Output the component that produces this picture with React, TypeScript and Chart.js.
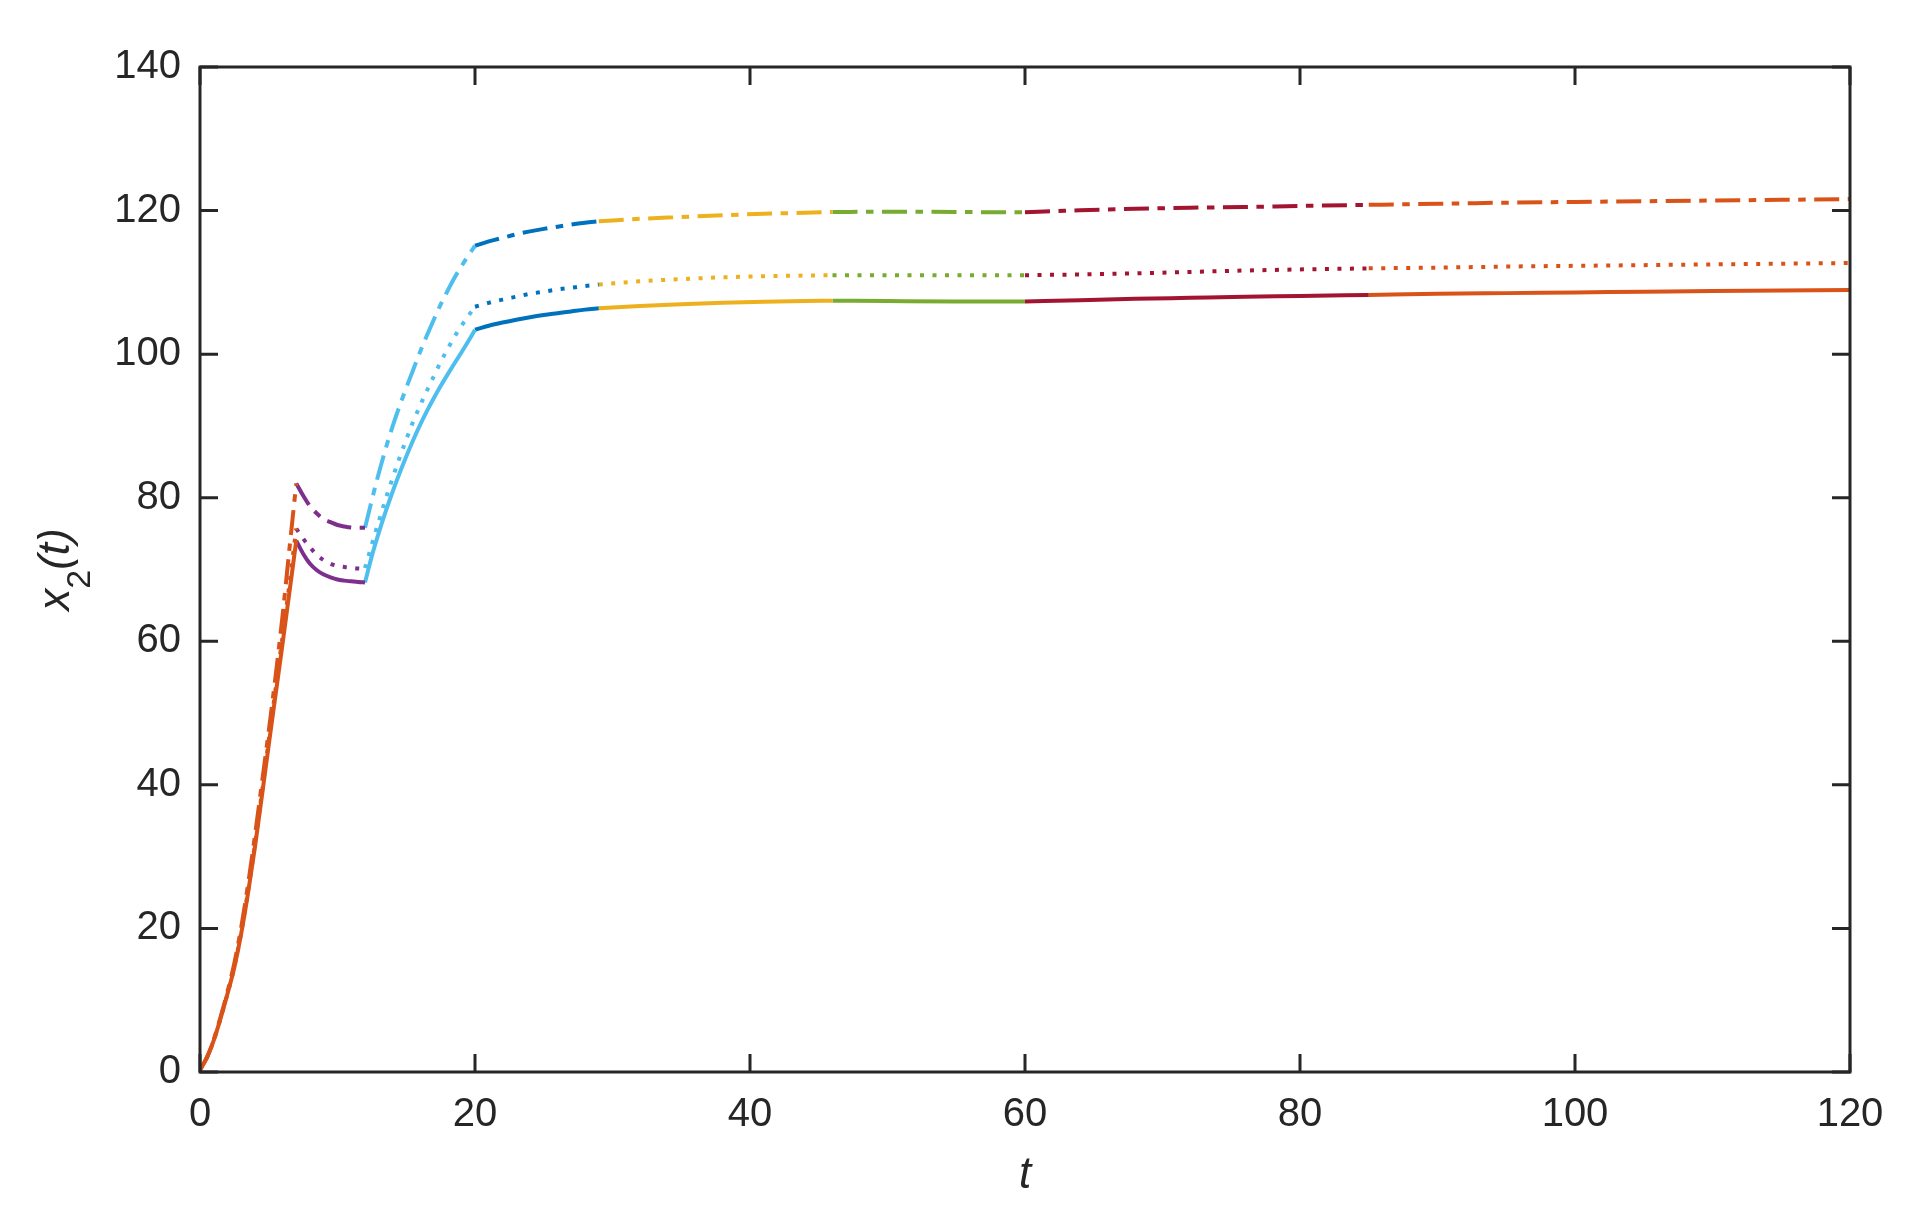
import React, { useEffect, useRef } from 'react';
import { Chart, registerables } from 'chart.js';

Chart.register(...registerables);

// ---- axis ticks ----
const xTickValues = [0, 20, 40, 60, 80, 100, 120];
const yTickValues = [0, 20, 40, 60, 80, 100, 120, 140];

// ---- segment A: t in [0,7] (orange) ----
const tA = [0, 0.5, 1, 1.5, 2, 2.5, 3, 3.5, 4, 4.5, 5, 5.5, 6, 6.5, 7];
const solidA = [0.3, 2.0, 4.4, 7.5, 10.9, 14.6, 19.3, 25.0, 31.4, 38.4, 45.6, 52.6, 59.6, 66.8, 74.0];
const dottedA = [0.3, 2.0, 4.4, 7.5, 10.9, 14.7, 19.5, 25.3, 31.8, 38.9, 46.2, 53.4, 60.6, 67.9, 75.7];
const dashdotA = [0.3, 2.0, 4.5, 7.7, 11.2, 15.2, 20.2, 26.2, 33.0, 40.2, 47.5, 55.2, 63.5, 72.8, 82.0];

// ---- segment B: t in [7,12] (purple) ----
const tB = [7, 7.5, 8, 8.5, 9, 9.5, 10, 10.5, 11, 11.5, 12];
const solidB = [74.0, 72.2, 70.8, 69.9, 69.3, 68.9, 68.6, 68.45, 68.35, 68.25, 68.2];
const dottedB = [75.7, 74.3, 73.1, 72.0, 71.3, 70.8, 70.5, 70.35, 70.25, 70.15, 70.1];
const dashdotB = [82.0, 80.3, 78.8, 77.8, 77.0, 76.6, 76.2, 76.0, 75.85, 75.8, 75.8];

// ---- segment C: t in [12,20] (light blue) ----
const tC = [12, 12.5, 13, 13.5, 14, 14.5, 15, 15.5, 16, 16.5, 17, 17.5, 18, 18.5, 19, 19.5, 20];
const solidC = [68.2, 71.9, 75.1, 78.05, 80.8, 83.35, 85.75, 88.0, 90.1, 92.05, 93.85, 95.55, 97.15, 98.7, 100.2, 101.75, 103.4];
const dottedC = [70.2, 73.5, 76.7, 79.8, 82.7, 85.5, 88.1, 90.6, 92.8, 94.9, 96.9, 98.9, 100.7, 102.4, 103.9, 105.3, 106.6];
const dashdotC = [75.8, 79.7, 83.4, 86.8, 89.9, 92.7, 95.3, 97.8, 100.3, 102.6, 104.8, 106.9, 108.8, 110.6, 112.2, 113.7, 115.1];

// ---- segment D: t in [20,29] (blue) ----
const tD = [20, 21, 22, 23, 24, 25, 26, 27, 28, 29];
const solidD = [103.4, 103.95, 104.4, 104.8, 105.15, 105.45, 105.7, 105.95, 106.2, 106.4];
const dottedD = [106.6, 107.15, 107.6, 108.0, 108.4, 108.7, 109.0, 109.25, 109.5, 109.7];
const dashdotD = [115.1, 115.7, 116.2, 116.7, 117.1, 117.45, 117.75, 118.05, 118.3, 118.5];

// ---- segment E: t in [29,46] (yellow) ----
const tE = [29, 32, 35, 38, 41, 44, 46];
const solidE = [106.4, 106.7, 106.95, 107.15, 107.3, 107.4, 107.45];
const dottedE = [109.7, 110.15, 110.45, 110.7, 110.85, 110.95, 111.0];
const dashdotE = [118.5, 118.85, 119.1, 119.35, 119.55, 119.7, 119.8];

// ---- segment F: t in [46,60] (green) ----
const tF = [46, 50, 55, 60];
const solidF = [107.45, 107.4, 107.35, 107.35];
const dottedF = [111.0, 111.0, 111.0, 111.0];
const dashdotF = [119.8, 119.85, 119.8, 119.75];

// ---- segment G: t in [60,85] (dark red) ----
const tG = [60, 64, 68, 72, 76, 80, 85];
const solidG = [107.35, 107.5, 107.7, 107.85, 108.0, 108.1, 108.25];
const dottedG = [111.0, 111.1, 111.25, 111.45, 111.65, 111.8, 111.95];
const dashdotG = [119.75, 120.05, 120.25, 120.4, 120.5, 120.65, 120.8];

// ---- segment H: t in [85,120] (orange) ----
const tH = [85, 90, 95, 100, 105, 110, 115, 120];
const solidH = [108.25, 108.4, 108.5, 108.6, 108.7, 108.8, 108.88, 108.95];
const dottedH = [111.95, 112.05, 112.2, 112.3, 112.4, 112.5, 112.6, 112.7];
const dashdotH = [120.8, 120.95, 121.1, 121.2, 121.3, 121.4, 121.5, 121.6];

const ORANGE = '#D95319';
const PURPLE = '#7E2F8E';
const LIGHTBLUE = '#4DBEEE';
const BLUE = '#0072BD';
const YELLOW = '#EDB120';
const GREEN = '#77AC30';
const DARKRED = '#A2142F';

const segments = [
  { t: tA, solid: solidA, dotted: dottedA, dashdot: dashdotA, color: ORANGE },
  { t: tB, solid: solidB, dotted: dottedB, dashdot: dashdotB, color: PURPLE },
  { t: tC, solid: solidC, dotted: dottedC, dashdot: dashdotC, color: LIGHTBLUE },
  { t: tD, solid: solidD, dotted: dottedD, dashdot: dashdotD, color: BLUE },
  { t: tE, solid: solidE, dotted: dottedE, dashdot: dashdotE, color: YELLOW },
  { t: tF, solid: solidF, dotted: dottedF, dashdot: dashdotF, color: GREEN },
  { t: tG, solid: solidG, dotted: dottedG, dashdot: dashdotG, color: DARKRED },
  { t: tH, solid: solidH, dotted: dottedH, dashdot: dashdotH, color: ORANGE },
];

const FONT_FAMILY = "'Liberation Sans', Arial, Helvetica, sans-serif";
const AXIS_COLOR = '#262626';
const TICK_FONT_SIZE = 40;
const LABEL_FONT_SIZE = 44;

const styles: { key: 'solid' | 'dotted' | 'dashdot'; dash: number[] }[] = [
  { key: 'solid', dash: [] },
  { key: 'dotted', dash: [4, 8.5] },
  { key: 'dashdot', dash: [25, 8.5, 7.5, 8.5] },
];

const framePlugin = {
  id: 'matlabFrame',
  afterDraw(chart: any) {
    const { ctx, chartArea } = chart;
    const { left, right, top, bottom } = chartArea;
    const xs = chart.scales.x;
    const ys = chart.scales.y;
    const tickLen = 18;
    ctx.save();
    ctx.strokeStyle = AXIS_COLOR;
    ctx.lineWidth = 3;
    ctx.lineCap = 'butt';
    ctx.beginPath();
    ctx.rect(left, top, right - left, bottom - top);
    ctx.stroke();
    ctx.beginPath();
    xs.ticks.forEach((tk: any) => {
      const px = xs.getPixelForValue(tk.value);
      ctx.moveTo(px, bottom);
      ctx.lineTo(px, bottom - tickLen);
      ctx.moveTo(px, top);
      ctx.lineTo(px, top + tickLen);
    });
    ys.ticks.forEach((tk: any) => {
      const py = ys.getPixelForValue(tk.value);
      ctx.moveTo(left, py);
      ctx.lineTo(left + tickLen, py);
      ctx.moveTo(right, py);
      ctx.lineTo(right - tickLen, py);
    });
    ctx.stroke();

    // axis titles
    ctx.fillStyle = AXIS_COLOR;
    ctx.textBaseline = 'alphabetic';
    // x title
    ctx.font = `italic ${LABEL_FONT_SIZE}px ${FONT_FAMILY}`;
    ctx.textAlign = 'center';
    ctx.fillText('t', (left + right) / 2, 1188);

    // y title: x_2(t), rotated
    const mainFont = `italic ${LABEL_FONT_SIZE}px ${FONT_FAMILY}`;
    const subFont = `${34}px ${FONT_FAMILY}`;
    ctx.font = mainFont;
    const wX = ctx.measureText('x').width;
    const wParen = ctx.measureText('(t)').width;
    ctx.font = subFont;
    const wSub = ctx.measureText('2').width;
    const total = wX + wSub + wParen;
    ctx.translate(69, (top + bottom) / 2);
    ctx.rotate(-Math.PI / 2);
    ctx.textAlign = 'left';
    let cx = -total / 2;
    ctx.font = mainFont;
    ctx.fillText('x', cx, 0);
    cx += wX;
    ctx.font = subFont;
    ctx.fillText('2', cx, 21);
    cx += wSub;
    ctx.font = mainFont;
    ctx.fillText('(t)', cx, 0);
    ctx.restore();
  },
};

export default function App() {
  const canvasRef = useRef<HTMLCanvasElement | null>(null);

  useEffect(() => {
    if (!canvasRef.current) return;
    const datasets: any[] = [];
    segments.forEach((seg) => {
      styles.forEach((st) => {
        datasets.push({
          data: seg.t.map((x, i) => ({ x, y: seg[st.key][i] })),
          borderColor: seg.color,
          backgroundColor: seg.color,
          borderWidth: 4,
          borderDash: st.dash,
          borderCapStyle: 'butt',
          pointRadius: 0,
          fill: false,
          cubicInterpolationMode: 'monotone',
        });
      });
    });

    const tickFont = { family: FONT_FAMILY, size: TICK_FONT_SIZE, lineHeight: 1.2 };

    const chart = new Chart(canvasRef.current, {
      type: 'line',
      data: { datasets },
      options: {
        animation: false,
        responsive: false,
        devicePixelRatio: 1,
        events: [],
        layout: { padding: { left: 0, right: 67, top: 67, bottom: 0 } },
        plugins: { legend: { display: false }, tooltip: { enabled: false } },
        scales: {
          x: {
            type: 'linear',
            min: 0,
            max: 120,
            afterBuildTicks: (s: any) => {
              s.ticks = xTickValues.map((v) => ({ value: v }));
            },
            afterFit: (s: any) => {
              s.height = 144;
            },
            ticks: {
              font: tickFont,
              color: AXIS_COLOR,
              padding: 19,
              maxRotation: 0,
              autoSkip: false,
              callback: (v: any) => String(v),
            },
            grid: { display: false, drawTicks: false },
            border: { display: false },
          },
          y: {
            type: 'linear',
            min: 0,
            max: 140,
            afterBuildTicks: (s: any) => {
              s.ticks = yTickValues.map((v) => ({ value: v }));
            },
            afterFit: (s: any) => {
              s.width = 200;
            },
            ticks: {
              font: tickFont,
              color: AXIS_COLOR,
              padding: 19,
              autoSkip: false,
              callback: (v: any) => String(v),
            },
            grid: { display: false, drawTicks: false },
            border: { display: false },
          },
        },
      } as any,
      plugins: [framePlugin],
    });
    return () => chart.destroy();
  }, []);

  return (
    <div style={{ position: 'absolute', left: 0, top: 0, width: 1917, height: 1216, background: '#ffffff' }}>
      <canvas ref={canvasRef} width={1917} height={1216} style={{ display: 'block', width: 1917, height: 1216 }} />
    </div>
  );
}
